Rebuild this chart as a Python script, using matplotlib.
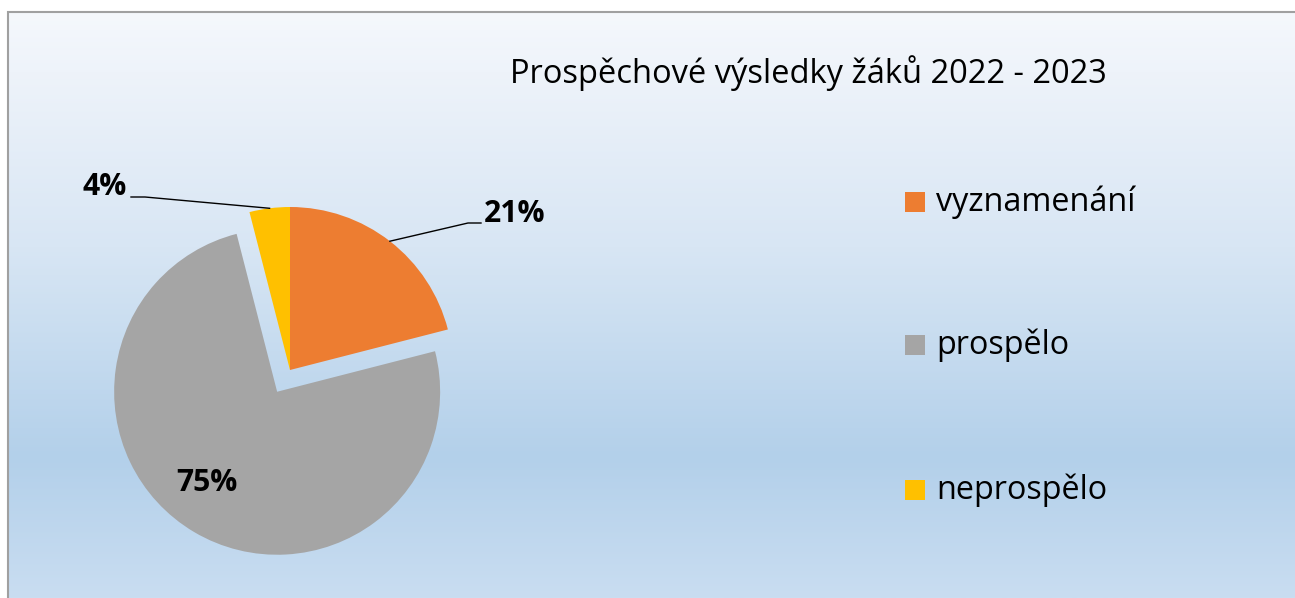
import numpy as np
import matplotlib.pyplot as plt
from matplotlib.colors import LinearSegmentedColormap
from matplotlib.patches import Rectangle

plt.rcParams['font.family'] = ['Open Sans', 'DejaVu Sans']

# data
categories = ["vyznamenání", "prospělo", "neprospělo"]
shares = [21, 75, 4]
colors = ["#ED7D31", "#A5A5A5", "#FFC000"]
explode = [0, 0.155, 0]   # fraction of radius
title = "Prospěchové výsledky žáků 2022 - 2023"

W, H = 1295, 598
fig = plt.figure(figsize=(W / 100, H / 100), dpi=100)
ax = fig.add_axes([0, 0, 1, 1])

# background: white outside, gradient panel with grey border
frame_x0, frame_top = 8, H - 12
grad = LinearSegmentedColormap.from_list(
    "bg", [(0.0, "#C9DDF1"), (0.24, "#B3D0EA"), (0.6, "#D8E6F4"), (0.9, "#EEF3FA"), (1.0, "#F5F8FC")])
ax.imshow(np.linspace(0, 1, 256).reshape(-1, 1), cmap=grad, aspect="auto",
          extent=(frame_x0, W + 5, 0, frame_top), origin="lower", zorder=0)
ax.add_patch(Rectangle((frame_x0, -5), W, frame_top + 5, fill=False,
                       edgecolor="#A0A0A0", linewidth=1.5, zorder=1))

# pie (axes units = pixels)
cx, cy, r = 290, H - 370, 163
wedges, _ = ax.pie(shares, colors=colors, explode=[e * r for e in explode],
                   startangle=90, counterclock=False, radius=r, center=(cx, cy),
                   wedgeprops=dict(linewidth=0), frame=True)
ax.set_xlim(0, W)
ax.set_ylim(0, H)
ax.set_aspect("equal")
ax.axis("off")

# mid-angles (math convention, degrees)
mids = [(w.theta1 + w.theta2) / 2 for w in wedges]

def edge_point(i, frac=1.0):
    a = np.deg2rad(mids[i])
    ox = cx + explode[i] * r * np.cos(a)
    oy = cy + explode[i] * r * np.sin(a)
    return ox + frac * r * np.cos(a), oy + frac * r * np.sin(a)

lbl = dict(fontsize=21.7, fontweight="bold", color="black", zorder=5)

# 21% with leader line
x0, y0 = edge_point(0)
ax.plot([x0, 468, 481], [y0, H - 223, H - 223], color="black", lw=1, zorder=4)
ax.text(484, H - 214, f"{shares[0]}%", ha="left", va="center", **lbl)

# 4% with leader line
x0, y0 = edge_point(2)
ax.plot([x0, 145, 131], [y0, H - 197, H - 197], color="black", lw=1, zorder=4)
ax.text(127, H - 187, f"{shares[2]}%", ha="right", va="center", **lbl)

# 75% inside
x0, y0 = edge_point(1, 0.73)
ax.text(x0 - 10, y0 + 11, f"{shares[1]}%", ha="center", va="center", **lbl)

# title
ax.text(510, H - 73, title, ha="left", va="center", fontsize=23.5, color="black")

# legend
leg_y = [H - 202, H - 345, H - 490]
for c, name, y in zip(colors, categories, leg_y):
    ax.add_patch(Rectangle((905, y - 10), 20, 20, facecolor=c, edgecolor="none", zorder=3))
    ax.text(936, y, name, ha="left", va="center", fontsize=23.3, color="black")

fig.savefig("out.png", dpi=100)
